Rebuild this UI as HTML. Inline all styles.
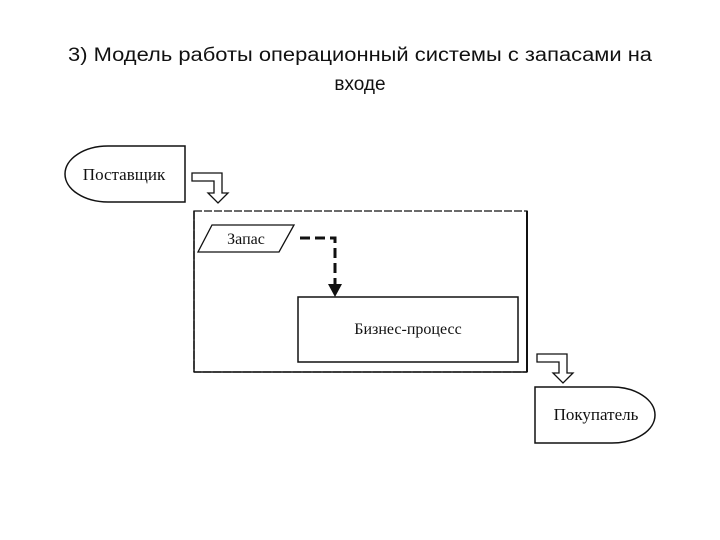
<!DOCTYPE html>
<html><head><meta charset="utf-8"><style>
html,body{margin:0;padding:0;background:#fff;}
svg{display:block;}
</style></head><body>
<svg width="720" height="540" viewBox="0 0 720 540" xmlns="http://www.w3.org/2000/svg">
<rect width="720" height="540" fill="#fff"/>
<g font-family="Liberation Sans, sans-serif" font-size="19" fill="#111" text-anchor="middle">
<text x="360" y="61" textLength="584" lengthAdjust="spacingAndGlyphs">3) Модель работы операционный системы с запасами на</text>
<text x="360" y="90">входе</text>
</g>
<!-- Supplier -->
<path d="M185,146 H108 A43,28 0 0 0 108,202 H185 Z" fill="#fff" stroke="#111" stroke-width="1.5"/>
<text x="124" y="180" font-family="Liberation Serif, serif" font-size="17" text-anchor="middle" fill="#111">Поставщик</text>
<!-- hollow arrow 1 -->
<path d="M192,173 H222 V193 H228 L218,203 L208,193 H214 V181 H192 Z" fill="#fff" stroke="#111" stroke-width="1.3"/>
<!-- outer box -->
<rect x="194" y="211" width="333" height="161" fill="none" stroke="#111" stroke-width="1.3" stroke-dasharray="8,2"/>
<line x1="194" y1="211" x2="194" y2="372" stroke="#111" stroke-width="1.5"/>
<line x1="527" y1="211" x2="527" y2="372" stroke="#111" stroke-width="2"/>
<line x1="194" y1="372" x2="527" y2="372" stroke="#111" stroke-width="1.5"/>
<!-- Zapas parallelogram -->
<path d="M212,225 H294 L279,252 H198 Z" fill="#fff" stroke="#111" stroke-width="1.3"/>
<text x="246" y="244" font-family="Liberation Serif, serif" font-size="16" text-anchor="middle" fill="#111">Запас</text>
<!-- dashed arrow -->
<path d="M300,238 H335 V285" fill="none" stroke="#111" stroke-width="3" stroke-dasharray="10,5"/>
<path d="M328,284 L342,284 L335,297 Z" fill="#111"/>
<!-- business process -->
<rect x="298" y="297" width="220" height="65" fill="#fff" stroke="#111" stroke-width="1.5"/>
<text x="408" y="334" font-family="Liberation Serif, serif" font-size="16" text-anchor="middle" fill="#111">Бизнес-процесс</text>
<!-- hollow arrow 2 -->
<path d="M537,354 H567 V373 H573 L563,383 L553,373 H559 V362 H537 Z" fill="#fff" stroke="#111" stroke-width="1.3"/>
<!-- Buyer -->
<path d="M535,387 H612 A43,28 0 0 1 612,443 H535 Z" fill="#fff" stroke="#111" stroke-width="1.5"/>
<text x="596" y="420" font-family="Liberation Serif, serif" font-size="17" text-anchor="middle" fill="#111">Покупатель</text>
</svg>
</body></html>
